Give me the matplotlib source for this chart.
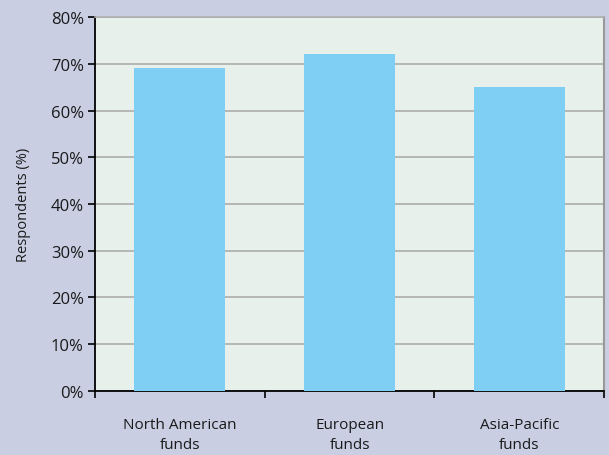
import matplotlib
matplotlib.use("Agg")
import matplotlib.pyplot as plt
from matplotlib.ticker import FuncFormatter, FixedLocator

categories = ["North American\nfunds", "European\nfunds", "Asia-Pacific\nfunds"]
respondents = [69, 72, 65]
y_ticks = [0, 10, 20, 30, 40, 50, 60, 70, 80]

plt.rcParams['font.family'] = ['Open Sans', 'DejaVu Sans']

fig = plt.figure(figsize=(6.09, 4.56), dpi=100, facecolor='#C9CEE3')
ax = fig.add_axes([0.156, 0.1404, 0.836, 0.8201])
ax.set_facecolor('#E7F0EB')

pos = list(range(len(categories)))
ax.bar(pos, respondents, width=0.535, color='#7FCFF4', zorder=3)

ax.set_xlim(-0.5, len(categories) - 0.5)
ax.set_ylim(0, 80)
ax.set_yticks(y_ticks)
ax.yaxis.set_major_formatter(FuncFormatter(lambda v, _: f"{int(v)}%"))
ax.yaxis.grid(True, color='#A8A8A8', linewidth=1.1, zorder=1)

ax.xaxis.set_major_locator(FixedLocator([p - 0.5 for p in pos] + [pos[-1] + 0.5]))
ax.xaxis.set_major_formatter(FuncFormatter(lambda v, _: ""))
for p, lab in zip(pos, categories):
    ax.text(p, -5.6, lab, ha='center', va='top', fontsize=11, color='#1a1a1a',
            linespacing=1.45)

ax.tick_params(axis='y', direction='out', length=5, width=1.2, labelsize=12,
               colors='black', pad=3)
ax.tick_params(axis='x', direction='out', length=5, width=1.2)
for t in ax.get_yticklabels():
    t.set_color('#1a1a1a')

for side in ('left', 'bottom'):
    ax.spines[side].set_color('black')
    ax.spines[side].set_linewidth(1.3)
ax.spines['right'].set_color('#999999')
ax.spines['right'].set_linewidth(1.5)
ax.spines['top'].set_color('#B0B0B0')
ax.spines['top'].set_linewidth(1.2)

ax.set_ylabel("Respondents (%)", fontsize=10.5, labelpad=14, color='#1a1a1a')

fig.savefig("out.png", dpi=100, facecolor=fig.get_facecolor())
